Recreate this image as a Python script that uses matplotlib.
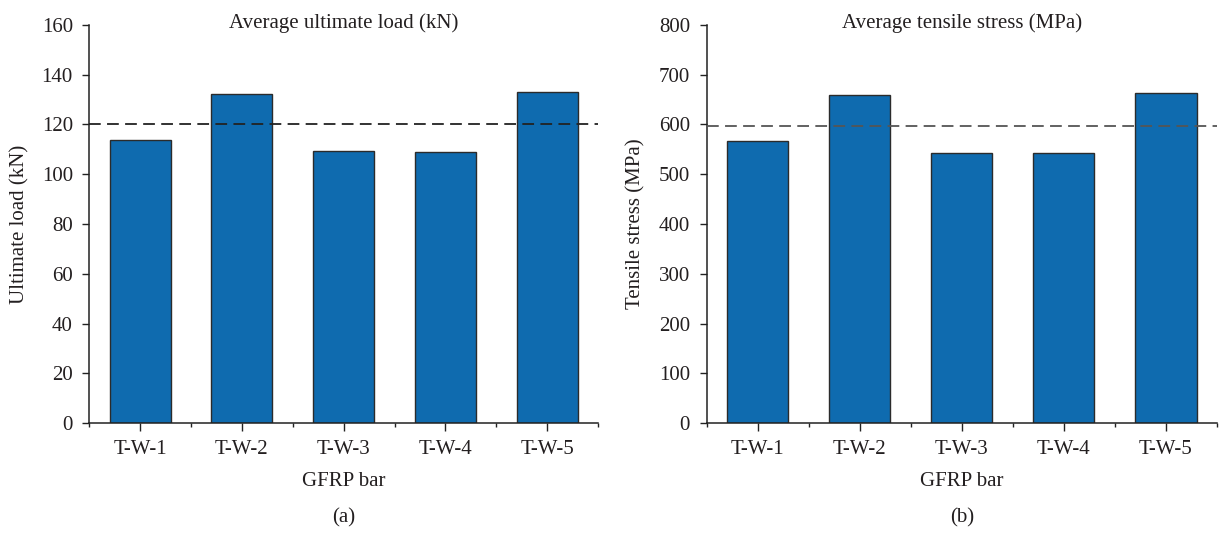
import matplotlib
matplotlib.use("Agg")
import matplotlib.pyplot as plt
from matplotlib.ticker import MultipleLocator, FixedLocator

categories = ["T-W-1", "T-W-2", "T-W-3", "T-W-4", "T-W-5"]
ultimate_load = [113.8, 132.3, 109.5, 109.1, 132.9]
tensile_stress = [566, 659, 543, 543, 663]
load_ref = 120
stress_ref = 597

plt.rcParams['font.family'] = ['Liberation Serif', 'DejaVu Serif']
plt.rcParams['font.size'] = 15

W, H = 1219, 535
fig = plt.figure(figsize=(W / 100, H / 100), dpi=100)

bar_color = "#0F6BAF"
edge_color = "#2b2b2b"
text_color = "#231f20"

def px_axes(x0, x1, ytop, ybot):
    return [x0 / W, (H - ybot) / H, (x1 - x0) / W, (ybot - ytop) / H]

panels = [
    dict(rect=px_axes(89.3, 598, 24.7, 423.3), vals=ultimate_load, ref=load_ref,
         ymax=160, step=20, ylabel="Ultimate load (kN)",
         title="Average ultimate load (kN)", tag="(a)", refc="#222222", ylx=20),
    dict(rect=px_axes(706.5, 1217, 24.7, 423.3), vals=tensile_stress, ref=stress_ref,
         ymax=800, step=100, ylabel="Tensile stress (MPa)",
         title="Average tensile stress (MPa)", tag="(b)", refc="#555555", ylx=636),
]

for p in panels:
    ax = fig.add_axes(p["rect"])
    x = list(range(len(categories)))
    ax.bar(x, p["vals"], width=0.6, color=bar_color, edgecolor=edge_color,
           linewidth=1.0, zorder=2)
    ax.axhline(p["ref"], color=p["refc"], linestyle=(0, (6.5, 3.5)),
               linewidth=1.3, zorder=3)
    ax.set_xlim(-0.5, len(categories) - 0.5)
    ax.set_ylim(0, p["ymax"])
    ax.yaxis.set_major_locator(MultipleLocator(p["step"]))
    ax.set_xticks(x)
    ax.set_xticklabels(categories)
    ax.xaxis.set_minor_locator(FixedLocator([i - 0.5 for i in range(len(categories) + 1)]))
    for s in ["top", "right"]:
        ax.spines[s].set_visible(False)
    for s in ["left", "bottom"]:
        ax.spines[s].set_color("#222222")
        ax.spines[s].set_linewidth(1.1)
    ax.tick_params(axis="y", direction="out", length=5.3, width=1.0, pad=6.5,
                   colors="#222222", labelcolor=text_color)
    ax.tick_params(axis="x", which="major", direction="out", length=5.8, width=1.0,
                   pad=6, colors="#222222", labelcolor=text_color)
    ax.tick_params(axis="x", which="minor", direction="out", length=3, width=1.0,
                   colors="#222222")
    ax.text(0.5, 0.9917, p["title"], transform=ax.transAxes, ha="center",
            va="baseline", color=text_color)
    cx = (p["rect"][0] + p["rect"][2] / 2)
    fig.text(cx, 1 - 481.5 / H, "GFRP bar", ha="center", va="center", color=text_color)
    fig.text(cx, 1 - 518 / H, p["tag"], ha="center", va="center", color=text_color)
    fig.text(p["ylx"] / W, 1 - 224 / H, p["ylabel"], rotation=90, ha="center",
             va="center", color=text_color)

fig.savefig("out.png", dpi=100)
